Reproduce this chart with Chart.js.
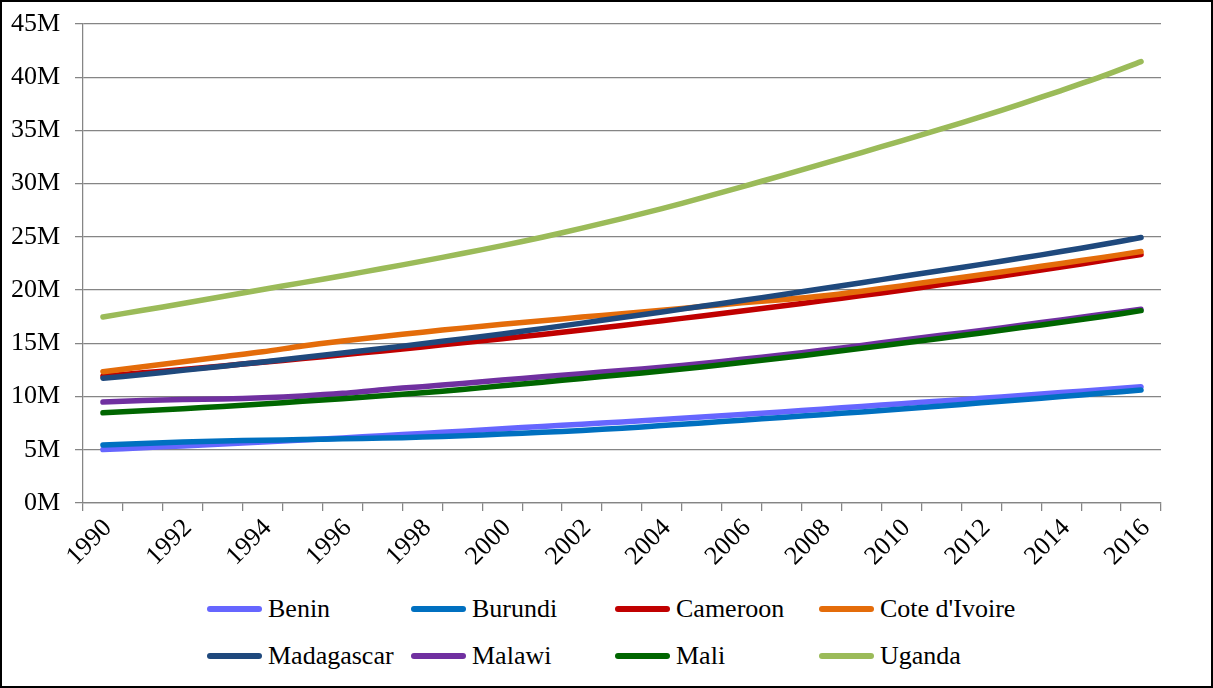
<!DOCTYPE html>
<html>
<head>
<meta charset="utf-8">
<title>Population, 1990–2016</title>
<script src="https://cdn.jsdelivr.net/npm/chart.js@4.4.0/dist/chart.umd.min.js"></script>
<style>
  html, body { margin: 0; padding: 0; background: #fff; }
  #frame {
    position: relative;
    width: 1213px;
    height: 688px;
    box-sizing: border-box;
    border: 2px solid #000;
    overflow: hidden;
    background: #fff;
  }
  #plot { position: absolute; left: -2px; top: -2px; }
  #legend {
    position: absolute;
    left: 205px;
    top: 592px;
    display: grid;
    grid-template-columns: repeat(4, 204px);
    grid-auto-rows: 47px;
    font-family: 'Liberation Serif', 'Times New Roman', serif;
    font-size: 26px;
    color: #000;
  }
  .item { display: flex; align-items: center; height: 30px; white-space: nowrap; }
  .swatch { display: inline-block; width: 55px; height: 6px; border-radius: 3px; margin-right: 6px; }
</style>
</head>
<body>
<div id="frame">
  <canvas id="plot" width="1213" height="580"></canvas>
  <div id="legend"></div>
</div>
<script>
// Years on the category axis
const years = ['1990','1991','1992','1993','1994','1995','1996','1997','1998','1999',
               '2000','2001','2002','2003','2004','2005','2006','2007','2008','2009',
               '2010','2011','2012','2013','2014','2015','2016'];

// Population in millions
const benin      = [5.02,5.19,5.36,5.54,5.72,5.91,6.11,6.32,6.53,6.75,6.98,7.19,7.40,7.62,7.85,8.08,8.32,8.56,8.81,9.07,9.33,9.58,9.84,10.10,10.37,10.64,10.92];
const burundi    = [5.46,5.60,5.73,5.83,5.90,5.96,6.03,6.10,6.19,6.32,6.48,6.64,6.82,7.03,7.27,7.52,7.78,8.04,8.30,8.56,8.84,9.12,9.41,9.70,10.00,10.30,10.61];
const cameroon   = [11.92,12.23,12.55,12.88,13.22,13.57,13.92,14.29,14.66,15.05,15.44,15.84,16.26,16.68,17.12,17.57,18.03,18.50,18.99,19.48,19.99,20.52,21.05,21.61,22.17,22.75,23.35];
const coteIvoire = [12.33,12.80,13.27,13.74,14.20,14.75,15.22,15.65,16.05,16.43,16.79,17.12,17.47,17.78,18.10,18.45,18.80,19.10,19.45,19.90,20.40,20.92,21.44,21.97,22.50,23.05,23.62];
const madagascar = [11.71,12.08,12.46,12.85,13.25,13.66,14.09,14.52,14.96,15.42,15.88,16.38,16.90,17.42,17.95,18.48,19.02,19.57,20.13,20.70,21.27,21.84,22.42,23.01,23.62,24.26,24.94];
const malawi     = [9.48,9.62,9.72,9.78,9.88,10.05,10.30,10.65,10.93,11.23,11.55,11.85,12.15,12.45,12.75,13.10,13.50,13.90,14.35,14.80,15.30,15.75,16.20,16.70,17.20,17.70,18.20];
const mali       = [8.47,8.66,8.86,9.07,9.30,9.55,9.80,10.07,10.35,10.67,11.01,11.35,11.70,12.05,12.40,12.78,13.20,13.62,14.07,14.53,15.00,15.48,15.98,16.48,16.98,17.50,18.07];
const uganda     = [17.48,18.10,18.74,19.40,20.06,20.70,21.35,22.03,22.72,23.44,24.18,24.97,25.82,26.72,27.66,28.66,29.70,30.76,31.83,32.92,34.03,35.15,36.30,37.50,38.75,40.05,41.47];

const seriesNames  = ['Benin','Burundi','Cameroon',"Cote d'Ivoire",'Madagascar','Malawi','Mali','Uganda'];
const seriesValues = [benin, burundi, cameroon, coteIvoire, madagascar, malawi, mali, uganda];
const seriesColors = ['#6666FF','#0070C0','#C00000','#E46C0A','#1F497D','#7030A0','#006600','#9BBB59'];

const FONT = "'Liberation Serif', 'Times New Roman', serif";
const GRID = '#858585';

const datasets = seriesNames.map((name, i) => ({
  label: name,
  data: seriesValues[i],
  borderColor: seriesColors[i],
  backgroundColor: seriesColors[i],
  borderWidth: 5.5,
  borderCapStyle: 'round',
  borderJoinStyle: 'round',
  pointRadius: 0,
  pointHoverRadius: 0,
  tension: 0.3,
  fill: false,
  order: seriesNames.length - i   // later series paint over earlier ones
}));

const chart = new Chart(document.getElementById('plot'), {
  type: 'line',
  data: { labels: years, datasets },
  options: {
    responsive: false,
    animation: false,
    layout: { padding: { left: 0, top: 24, right: 52, bottom: 0 } },
    plugins: { legend: { display: false }, tooltip: { enabled: false } },
    scales: {
      x: {
        type: 'category',
        offset: true,
        grid: {
          offset: true,
          drawOnChartArea: false,
          drawTicks: true,
          tickLength: 8,
          color: GRID,
          lineWidth: 1.25
        },
        border: { display: true, color: GRID, width: 1.25 },
        ticks: {
          autoSkip: false,
          minRotation: 45,
          maxRotation: 45,
          padding: 2,
          labelOffset: 5,
          color: '#000',
          font: { family: FONT, size: 26 },
          callback: (v, idx) => (idx % 2 === 0 ? years[idx] : '')
        },
        afterFit: (scale) => { scale.height = 77; }
      },
      y: {
        min: 0,
        max: 45,
        grid: { color: GRID, lineWidth: 1.25, tickLength: 8, drawTicks: true },
        border: { display: true, color: GRID, width: 1.25 },
        ticks: {
          stepSize: 5,
          padding: 15,
          color: '#000',
          font: { family: FONT, size: 26 },
          callback: (v) => v + 'M'
        },
        afterFit: (scale) => {
          scale.width = 83;
          scale.paddingTop = 0;
          scale.paddingBottom = 0;
        }
      }
    }
  }
});

// Two-row legend built from the chart's datasets
const legend = document.getElementById('legend');
chart.data.datasets.forEach((ds) => {
  const item = document.createElement('div');
  item.className = 'item';
  const sw = document.createElement('span');
  sw.className = 'swatch';
  sw.style.background = ds.borderColor;
  const txt = document.createElement('span');
  txt.textContent = ds.label;
  item.appendChild(sw);
  item.appendChild(txt);
  legend.appendChild(item);
});
</script>
</body>
</html>
